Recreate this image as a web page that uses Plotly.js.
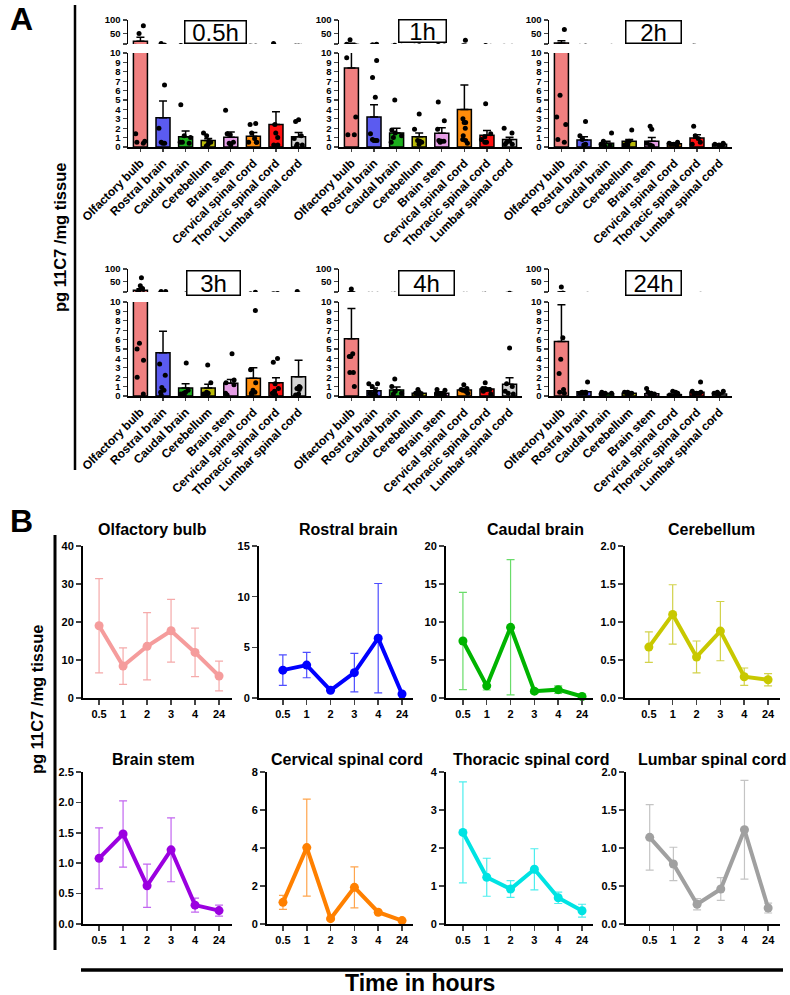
<!DOCTYPE html>
<html><head><meta charset="utf-8">
<script src="https://cdn.plot.ly/plotly-3.0.1.min.js"></script>
<style>html,body{margin:0;padding:0;background:#fff}#chart{width:790px;height:995px}</style>
</head><body><div id="chart"></div>
<script>
// ---------------- DATA ----------------
const regions = ['Olfactory bulb','Rostral brain','Caudal brain','Cerebellum','Brain stem','Cervical spinal cord','Thoracic spinal cord','Lumbar spinal cord'];
const timeTitles = ['0.5h','1h','2h','3h','4h','24h'];

// Panel A: bar means, SEM and individual points per region (order = regions)
const mean_05h = [20, 3.1, 1.1, 0.7, 1.05, 1.15, 2.4, 1.1];
const sem_05h  = [15, 1.8, 0.6, 0.2, 0.55, 0.4, 1.35, 0.45];
const pts_05h  = [[78,49,1.4,0.5,0.6,0.4],[12,6.6,2.0,0.5,0.4,0.4],[4.5,1.2,0.5,0.5,0.4,1.0],[1.2,1.5,0.3,0.6,0.5,0.1],[3.9,1.3,1.4,0.4,0.2,0.5],[2.5,2.4,1.5,0.9,0.5,0.5,0.5],[12,2.4,1.5,1.0,0.2,0.2,0.1],[2.9,2.7,1.2,0.9,0.3,0.2,0.1]];

const mean_1h = [8.4, 3.2, 1.5, 1.1, 1.45, 4.0, 1.25, 0.8];
const sem_1h  = [4.8, 1.3, 0.5, 0.4, 0.6, 2.6, 0.5, 0.25];
const pts_1h  = [[26,9.5,3.2,1.3,1.3],[9.2,7.4,5.3,1.4,0.8,0.7,0.7,0.7],[5.0,1.8,1.5,1.2,1.0,0.5],[3.5,1.9,0.7,0.6,0.5,0.3],[4.8,2.8,1.9,0.7,0.6,0.6,0.5],[24,3.0,2.6,2.6,2.0,1.2,0.8,0.7,0.4],[4.6,1.4,1.1,0.8,0.5,0.5],[2.0,1.5,0.6,0.5,0.3,0.3]];

const mean_2h = [13.6, 0.75, 0.4, 0.6, 0.6, 0.35, 0.95, 0.3];
const sem_2h  = [8.9, 0.35, 0.2, 0.2, 0.4, 0.1, 0.35, 0.05];
const pts_2h  = [[64,5.5,3.2,2.4,0.5,0.8],[2.7,1.2,0.8,0.3,0.2],[1.5,0.6,0.3,0.2,0.1],[1.8,0.6,0.5,0.2,0.2],[2.2,1.9,0.4,0.2,0.1],[0.5,0.4,0.3,0.2,0.3],[2.2,1.2,0.9,0.5,0.3],[0.4,0.3,0.2,0.3,0.2]];

const mean_3h = [17, 4.6, 0.85, 0.85, 1.35, 1.9, 1.4, 2.05];
const sem_3h  = [6, 2.3, 0.45, 0.4, 0.4, 1.1, 0.55, 1.75];
const pts_3h  = [[66,34,24,5.6,5.0,3.8,2.0,0.2],[12,12,3.4,2.2,0.9,0.6,0.4,0.1],[3.5,0.6,0.3,0.4,0.2,0.1],[3.3,1.4,0.4,0.3,0.2,0.1],[4.5,1.7,1.4,1.2,0.3,0.1],[9.1,2.8,1.4,0.6,0.4,0.3,0.1],[4.0,3.6,1.3,0.8,0.5,0.3,0.2,0.1],[12,1.0,0.9,0.8,0.7,0.2,0.1]];

const mean_4h = [6.1, 0.55, 0.65, 0.3, 0.3, 0.65, 0.75, 1.25];
const sem_4h  = [3.2, 0.3, 0.3, 0.1, 0.15, 0.15, 0.1, 0.7];
const pts_4h  = [[22,4.5,4.2,4.2,2.5,2.5,1.0],[1.3,1.3,1.0,0.5,0.3,0.1,0.2],[1.8,1.0,0.5,0.3,0.2],[0.7,0.4,0.3,0.2,0.2,0.1,0.2],[0.7,0.6,0.3,0.2,0.2,0.1],[1.2,0.8,0.7,0.6,0.5,0.3],[1.4,0.8,0.8,0.7,0.7,0.5,0.2],[5.1,1.3,1.0,0.5,0.3,0.2]];

const mean_24h = [5.8, 0.45, 0.25, 0.3, 0.25, 0.15, 0.4, 0.2];
const sem_24h  = [3.9, 0.05, 0.05, 0.05, 0.1, 0.05, 0.05, 0.1];
const pts_24h  = [[30,6.2,3.9,2.4,0.7,0.3,0.4],[1.5,0.4,0.4,0.3,0.3,0.3],[0.4,0.3,0.3,0.2,0.2],[0.4,0.4,0.3,0.3,0.2,0.3],[0.8,0.4,0.3,0.2,0.1,0.2],[0.5,0.4,0.3,0.1,0.1],[1.5,0.5,0.4,0.3,0.3,0.2],[0.5,0.4,0.3,0.2,0.2]];

// Panel B: mean and SEM over time per region
const timeLabels = ['0.5','1','2','3','4','24'];
const bMean_olfactory = [19, 8.4, 13.6, 17.7, 12, 5.8];
const bSem_olfactory  = [12.4, 4.8, 8.85, 8.25, 6.4, 3.9];
const bMean_rostral = [2.75, 3.25, 0.76, 2.5, 5.9, 0.4];
const bSem_rostral  = [1.5, 1.25, 0.05, 1.9, 5.4, 0.05];
const bMean_caudal = [7.5, 1.6, 9.3, 0.9, 1.1, 0.2];
const bSem_caudal  = [6.4, 0.55, 8.9, 0.3, 0.5, 0.05];
const bMean_cerebellum = [0.67, 1.1, 0.54, 0.88, 0.28, 0.24];
const bSem_cerebellum  = [0.2, 0.39, 0.21, 0.39, 0.115, 0.08];
const bMean_brainstem = [1.08, 1.48, 0.63, 1.22, 0.31, 0.22];
const bSem_brainstem  = [0.5, 0.545, 0.355, 0.525, 0.115, 0.09];
const bMean_cervical = [1.14, 4.02, 0.28, 1.93, 0.62, 0.18];
const bSem_cervical  = [0.37, 2.55, 0.05, 1.08, 0.05, 0.03];
const bMean_thoracic = [2.41, 1.23, 0.92, 1.44, 0.69, 0.35];
const bSem_thoracic  = [1.33, 0.5, 0.22, 0.54, 0.15, 0.17];
const bMean_lumbar = [1.14, 0.79, 0.26, 0.46, 1.24, 0.21];
const bSem_lumbar  = [0.43, 0.22, 0.075, 0.15, 0.65, 0.065];
const bRanges = [40, 15, 20, 2, 2.5, 8, 4, 2];
const bDticks = [10, 5, 5, 0.5, 0.5, 2, 1, 0.5];

// ---------------- STYLE ----------------
const FONT = 'Arial, "Liberation Sans", Helvetica, sans-serif';
const barColors = ['#F08080','#5B5BF0','#1DB01D','#BABA0A','#E59EE5','#FF8C0A','#FF1010','#D3D3D3'];
const lineColors = ['#F59C9C','#0000FF','#00B400','#C8C800','#9B00E0','#FF8000','#00E3E3','#A0A0A0'];
const errColors  = ['#F5AAAA','#4D4DFF','#6ADC6A','#D2D24A','#C266F0','#FFA54D','#4DEEEE','#C4C4C4'];

const W = 790, H = 995;
const fx = p => p / W, fy = p => 1 - p / H;

const aMeans = [mean_05h, mean_1h, mean_2h, mean_3h, mean_4h, mean_24h];
const aSems  = [sem_05h, sem_1h, sem_2h, sem_3h, sem_4h, sem_24h];
const aPts   = [pts_05h, pts_1h, pts_2h, pts_3h, pts_4h, pts_24h];
const bMeans = [bMean_olfactory,bMean_rostral,bMean_caudal,bMean_cerebellum,bMean_brainstem,bMean_cervical,bMean_thoracic,bMean_lumbar];
const bSems  = [bSem_olfactory,bSem_rostral,bSem_caudal,bSem_cerebellum,bSem_brainstem,bSem_cervical,bSem_thoracic,bSem_lumbar];

// layout geometry (pixels)
const aGeo = [
  {x:[128,311], lo:[53,147], up:[20,44], box:[215,32,60,21]},
  {x:[339,522], lo:[53,147], up:[20,44], box:[422.5,31.5,46,21]},
  {x:[549,732], lo:[53,147], up:[20,44], box:[653.5,32.5,54,21]},
  {x:[128,311], lo:[302,396], up:[269,292], box:[213.5,283,52,23]},
  {x:[339,522], lo:[302,396], up:[269,292], box:[426.5,283,54,23]},
  {x:[549,732], lo:[302,396], up:[269,292], box:[653.5,283,54,23]}
];
const bGeo = [
  {x:[83,232], r:[-0.67,5.54], y:[546,698], t:[152,529]},
  {x:[259,413], r:[-1.0,5.46], y:[546,698], t:[348,529]},
  {x:[446,593], r:[-0.71,5.46], y:[546,698], t:[535,529]},
  {x:[625,780], r:[-1.0,5.5], y:[546,698], t:[711,529]},
  {x:[83,232], r:[-0.67,5.54], y:[772,924], t:[153,759]},
  {x:[267,413], r:[-0.67,5.46], y:[772,924], t:[347,759]},
  {x:[446,593], r:[-0.71,5.46], y:[772,924], t:[531,759]},
  {x:[626,780], r:[-1.0,5.5], y:[772,924], t:[712,759]}
];

const traces = [];
const layout = {
  width: W, height: H, margin: {l:0, r:0, t:0, b:0},
  paper_bgcolor: '#fff', plot_bgcolor: 'rgba(0,0,0,0)',
  showlegend: false, bargap: 0.38, boxmode: 'overlay',
  font: {family: FONT, color: '#000'},
  annotations: [], shapes: []
};
const axName = (p, i) => p + 'axis' + (i === 1 ? '' : i);
const ref = (p, i) => p + (i === 1 ? '' : i);

// ---------- Panel A ----------
aGeo.forEach((g, k) => {
  const xi = k + 1, yLo = 2 * k + 1, yUp = 2 * k + 2;
  layout[axName('x', xi)] = {
    domain: [fx(g.x[0]), fx(g.x[1])], anchor: ref('y', yLo), type: 'category',
    range: [-0.55, 7.55], showline: true, linewidth: 1.5, linecolor: '#000',
    ticks: 'outside', ticklen: 3, tickwidth: 1.2, tickangle: -45,
    tickfont: {size: 12, family: FONT, weight: 700}, showgrid: false, zeroline: false
  };
  const yBase = {anchor: ref('x', xi), showline: true, linewidth: 1.5, linecolor: '#000',
    ticks: 'outside', ticklen: 4, tickwidth: 1.2, showgrid: false, zeroline: false,
    tickfont: {size: 9.5, family: FONT, weight: 700}};
  layout[axName('y', yLo)] = Object.assign({}, yBase, {
    domain: [fy(g.lo[1]), fy(g.lo[0])], range: [0, 10], tickvals: [0,1,2,3,4,5,6,7,8,9,10]});
  layout[axName('y', yUp)] = Object.assign({}, yBase, {
    domain: [fy(g.up[1]), fy(g.up[0])], range: [10, 100], tickvals: [10,50,100], ticktext: ['','50','100']});

  [yLo, yUp].forEach(yi => {
    traces.push({
      type: 'bar', x: regions, y: aMeans[k], xaxis: ref('x', xi), yaxis: ref('y', yi),
      marker: {color: barColors, line: {color: '#000', width: 1.5}},
      error_y: {type: 'data', symmetric: false, array: aSems[k], arrayminus: aSems[k].map(() => 0),
        color: '#000', thickness: 1.5, width: 4},
      hoverinfo: 'skip'
    });
    const px = [], py = [];
    aPts[k].forEach((arr, r) => arr.forEach(v => { px.push(regions[r]); py.push(v); }));
    traces.push({
      type: 'box', x: px, y: py, xaxis: ref('x', xi), yaxis: ref('y', yi),
      boxpoints: 'all', jitter: 0.9, pointpos: 0, width: 0.55,
      fillcolor: 'rgba(0,0,0,0)', line: {width: 0, color: 'rgba(0,0,0,0)'},
      marker: {color: '#000', size: 5, line: {width: 0}}, hoverinfo: 'skip'
    });
  });

  layout.annotations.push({
    xref: 'paper', yref: 'paper', x: fx(g.box[0]), y: fy(g.box[1]), xanchor: 'center', yanchor: 'middle',
    text: timeTitles[k], showarrow: false, width: g.box[2], height: g.box[3],
    bordercolor: '#000', borderwidth: 1.5, borderpad: 0, bgcolor: '#fff',
    font: {size: 24, family: FONT, color: '#000'}
  });
});

// ---------- Panel B ----------
bGeo.forEach((g, j) => {
  const xi = 7 + j, yi = 13 + j;
  layout[axName('x', xi)] = {
    domain: [fx(g.x[0]), fx(g.x[1])], anchor: ref('y', yi), type: 'category', range: g.r,
    showline: true, linewidth: 2, linecolor: '#000', ticks: 'outside', ticklen: 5, tickwidth: 1.5,
    tickfont: {size: 11, family: FONT, weight: 700}, showgrid: false, zeroline: false
  };
  layout[axName('y', yi)] = {
    domain: [fy(g.y[1]), fy(g.y[0])], anchor: ref('x', xi), range: [0, bRanges[j]], dtick: bDticks[j],
    tickformat: bDticks[j] < 1 ? '.1f' : '', showline: true, linewidth: 2, linecolor: '#000',
    ticks: 'outside', ticklen: 5, tickwidth: 1.5, showgrid: false, zeroline: false,
    tickfont: {size: 11, family: FONT, weight: 700}
  };
  traces.push({
    type: 'scatter', mode: 'lines+markers', x: timeLabels, y: bMeans[j],
    xaxis: ref('x', xi), yaxis: ref('y', yi), cliponaxis: false,
    line: {color: lineColors[j], width: 4}, marker: {color: lineColors[j], size: 9},
    error_y: {type: 'data', array: bSems[j], color: errColors[j], thickness: 1.2, width: 4},
    hoverinfo: 'skip'
  });
  layout.annotations.push({
    xref: 'paper', yref: 'paper', x: fx(g.t[0]), y: fy(g.t[1]), xanchor: 'center', yanchor: 'middle',
    text: regions[j], showarrow: false, font: {size: 16, family: FONT, weight: 700, color: '#000'}
  });
});

// ---------- Decorations ----------
layout.annotations.push(
  {xref:'paper', yref:'paper', x: fx(21), y: fy(19), text: 'A', showarrow: false, xanchor:'center', yanchor:'middle',
   font: {size: 32, family: FONT, weight: 700, color: '#000'}},
  {xref:'paper', yref:'paper', x: fx(21), y: fy(521), text: 'B', showarrow: false, xanchor:'center', yanchor:'middle',
   font: {size: 32, family: FONT, weight: 700, color: '#000'}},
  {xref:'paper', yref:'paper', x: fx(60), y: fy(238), text: 'pg 11C7 /mg tissue', textangle: -90, showarrow: false,
   xanchor:'center', yanchor:'middle', font: {size: 16.5, family: FONT, weight: 700, color: '#000'}},
  {xref:'paper', yref:'paper', x: fx(37), y: fy(700), text: 'pg 11C7 /mg tissue', textangle: -90, showarrow: false,
   xanchor:'center', yanchor:'middle', font: {size: 16.5, family: FONT, weight: 700, color: '#000'}},
  {xref:'paper', yref:'paper', x: fx(420), y: fy(983), text: 'Time in hours', showarrow: false,
   xanchor:'center', yanchor:'middle', font: {size: 23, family: FONT, weight: 700, color: '#000'}}
);
layout.shapes.push(
  {type:'line', xref:'paper', yref:'paper', x0: fx(75), x1: fx(75), y0: fy(5), y1: fy(470), line: {color:'#000', width: 2.5}},
  {type:'line', xref:'paper', yref:'paper', x0: fx(55), x1: fx(55), y0: fy(535), y1: fy(950), line: {color:'#000', width: 3}},
  {type:'line', xref:'paper', yref:'paper', x0: fx(81), x1: fx(783), y0: fy(970), y1: fy(970), line: {color:'#000', width: 3.5}}
);

Plotly.newPlot('chart', traces, layout, {staticPlot: true, displayModeBar: false});
</script>
</body></html>
